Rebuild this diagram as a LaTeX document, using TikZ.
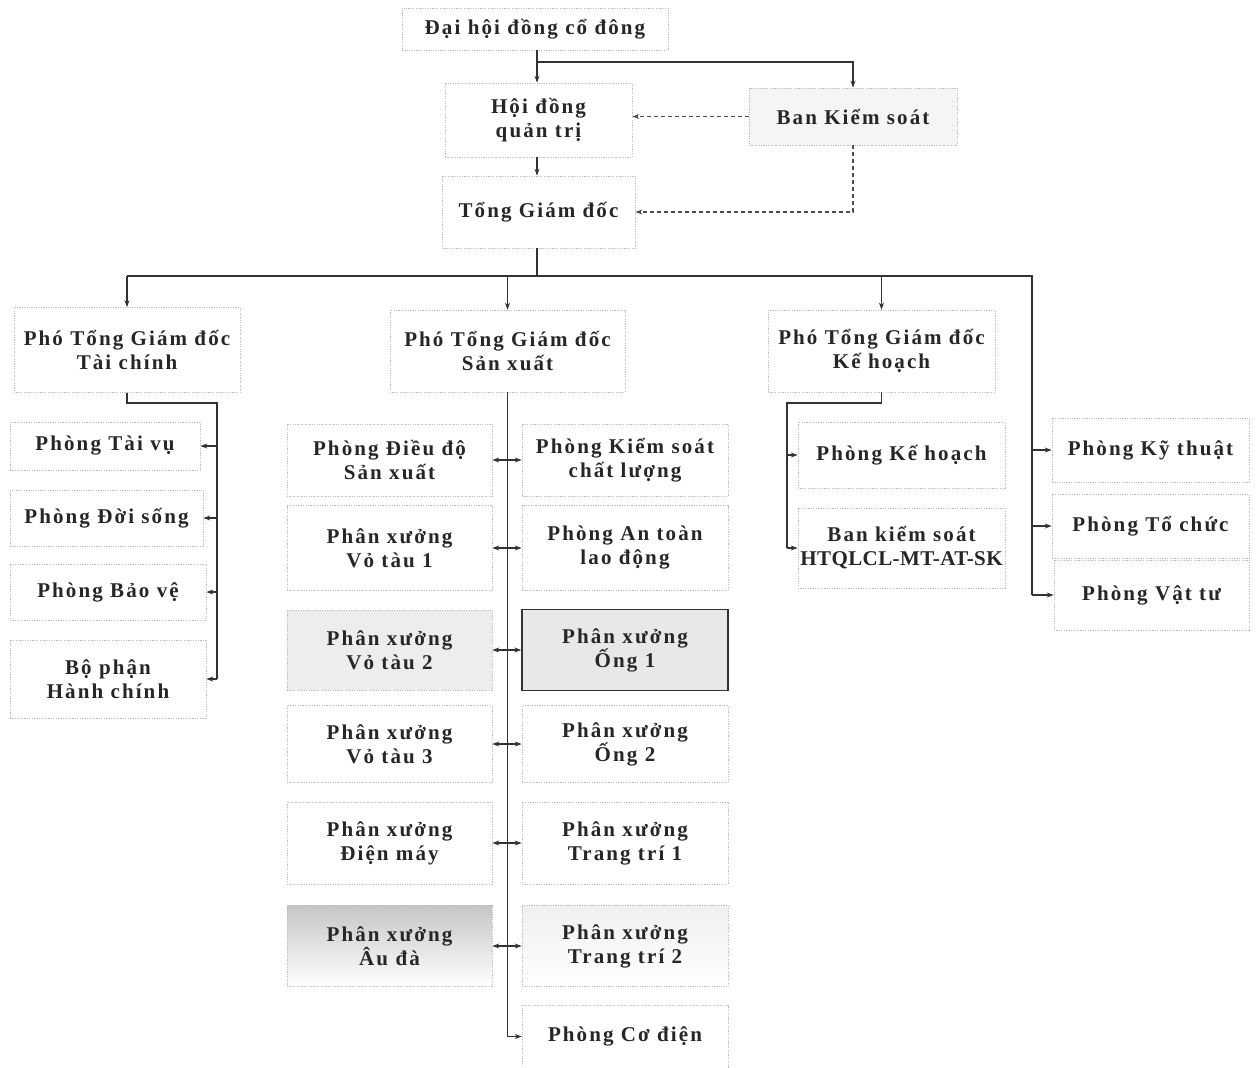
\documentclass[tikz,border=0pt]{standalone}
\usepackage{fontspec}
\newfontfamily\boxfont{Liberation Serif}[LetterSpace=10]
\newfontfamily\plainfont{Liberation Serif}[LetterSpace=2]
\usetikzlibrary{arrows.meta,shadings}
\begin{document}
\begin{tikzpicture}[x=1pt,y=-1pt,
 box/.style={draw=gray!50, line width=0.7pt, dash pattern=on 1.2pt off 1.2pt, inner sep=0pt, align=center, text=black!85, font=\boxfont\bfseries\fontsize{21}{24}\selectfont},
 conn/.style={draw=black!80, line width=1.3pt},
 arr/.style={conn, -{Stealth[length=7pt,width=5pt]}},
 darr/.style={conn, {Stealth[length=7pt,width=5pt]}-{Stealth[length=7pt,width=5pt]}},
 dasharr/.style={draw=black!70, line width=1.1pt, dash pattern=on 4pt off 3pt, -{Stealth[length=7pt,width=5pt]}},
]
\fill[white] (0,0) rectangle (1259,1068);
\useasboundingbox (0,0) rectangle (1259,1068);

% top
\node[box, minimum width=266pt, minimum height=42pt] (dh) at (535,29) {Đại hội đồng cổ đông};
\node[box, minimum width=187pt, minimum height=74pt] (hd) at (538.5,120) {Hội đồng\\quản trị};
\node[box, minimum width=193pt, minimum height=72pt] (tgd) at (538.5,212) {Tổng Giám đốc};
\node[box, minimum width=208pt, minimum height=57pt, fill=gray!8] (bks) at (853,116.5) {Ban Kiểm soát};

% deputies
\node[box, minimum width=226pt, minimum height=85pt] (ptc) at (127,350) {Phó Tổng Giám đốc\\Tài chính};
\node[box, minimum width=235pt, minimum height=82pt] (psx) at (507.5,351) {Phó Tổng Giám đốc\\Sản xuất};
\node[box, minimum width=227pt, minimum height=82pt] (pkh) at (881.5,351) {Phó Tổng Giám đốc\\Kế hoạch};

% left column
\node[box, minimum width=190pt, minimum height=48pt] (tv) at (105,446) {Phòng Tài vụ};
\node[box, minimum width=193pt, minimum height=56pt] (ds) at (106.5,518) {Phòng Đời sống};
\node[box, minimum width=196pt, minimum height=56pt] (bv) at (108,592) {Phòng Bảo vệ};
\node[box, minimum width=196pt, minimum height=78pt] (hc) at (108,679) {Bộ phận\\Hành chính};

% centre left
\node[box, minimum width=205pt, minimum height=72pt] (dd) at (389.5,460) {Phòng Điều độ\\Sản xuất};
\node[box, minimum width=205pt, minimum height=85pt] (vt1) at (389.5,548) {Phân xưởng\\Vỏ tàu 1};
\node[box, minimum width=205pt, minimum height=80pt, fill=gray!14] (vt2) at (389.5,650) {Phân xưởng\\Vỏ tàu 2};
\node[box, minimum width=205pt, minimum height=77pt] (vt3) at (389.5,744) {Phân xưởng\\Vỏ tàu 3};
\node[box, minimum width=205pt, minimum height=82pt] (dm) at (389.5,843) {Phân xưởng\\Điện máy};
\node[box, minimum width=205pt, minimum height=81pt, top color=gray!45, bottom color=white] (ad) at (389.5,946) {Phân xưởng\\Âu đà};

% centre right
\node[box, minimum width=206pt, minimum height=72pt] (ksc) at (625,460) {Phòng Kiểm soát\\chất lượng};
\node[box, minimum width=206pt, minimum height=85pt] (atld) at (625,548) {Phòng An toàn\\lao động};
\node[box, minimum width=206pt, minimum height=81pt, fill=gray!18, draw=black!80, solid, line width=1.3pt] (o1) at (625,650) {Phân xưởng\\Ống 1};
\node[box, minimum width=206pt, minimum height=77pt] (o2) at (625,744) {Phân xưởng\\Ống 2};
\node[box, minimum width=206pt, minimum height=82pt] (tt1) at (625,843) {Phân xưởng\\Trang trí 1};
\node[box, minimum width=206pt, minimum height=81pt, top color=gray!12, bottom color=white] (tt2) at (625,946) {Phân xưởng\\Trang trí 2};
\node[box, minimum width=206pt, minimum height=63pt] (cd) at (625,1036.5) {Phòng Cơ điện};

% planning column
\node[box, minimum width=207pt, minimum height=66pt] (kh) at (901.5,455) {Phòng Kế hoạch};
\node[box, minimum width=207pt, minimum height=80pt] (bkht) at (901.5,548) {Ban kiểm soát\\{\plainfont\bfseries HTQLCL-MT-AT-SK}};

% far right
\node[box, minimum width=197pt, minimum height=64pt] (kt) at (1150.5,450) {Phòng Kỹ thuật};
\node[box, minimum width=197pt, minimum height=64pt] (tc) at (1150.5,526) {Phòng Tổ chức};
\node[box, minimum width=195pt, minimum height=70pt] (vtu) at (1151.5,595) {Phòng Vật tư};

% top connectors
\coordinate (j1) at (537,62);
\coordinate (j2) at (537,170);
\draw[conn] (dh.south -| j1) -- (j1);
\draw[arr] (j1) -- (j1 |- hd.north);
\draw[arr] (j1) -| (bks.north);
\draw[arr] (hd.south -| j2) -- (tgd.north -| j2);
\draw[dasharr] (bks.west) -- (bks.west -| hd.east);
\draw[dasharr] (bks.south) |- (tgd.east);

% bus
\coordinate (bus) at (537,276);
\coordinate (rv) at (1032,276);
\draw[conn] (tgd.south -| bus) -- (bus);
\draw[conn] (ptc.north |- bus) -- (rv) -- (rv |- vtu.west);
\draw[arr] (ptc.north |- bus) -- (ptc.north);
\draw[arr] (psx.north |- bus) -- (psx.north);
\draw[arr] (pkh.north |- bus) -- (pkh.north);
\draw[arr] (rv |- kt.west) -- (kt.west);
\draw[arr] (rv |- tc.west) -- (tc.west);
\draw[arr] (rv |- vtu.west) -- (vtu.west);

% left column connectors
\coordinate (lv) at (217,403);
\draw[conn] (ptc.south) |- (lv) -- (lv |- hc.east);
\draw[arr] (lv |- tv.east) -- (tv.east);
\draw[arr] (lv |- ds.east) -- (ds.east);
\draw[arr] (lv |- bv.east) -- (bv.east);
\draw[arr] (lv |- hc.east) -- (hc.east);

% centre connectors
\draw[conn] (psx.south) -- (psx.south |- cd.west);
\draw[arr] (psx.south |- cd.west) -- (cd.west);
\draw[darr] (dd.east) -- (ksc.west);
\draw[darr] (vt1.east) -- (atld.west);
\draw[darr] (vt2.east) -- (o1.west);
\draw[darr] (vt3.east) -- (o2.west);
\draw[darr] (dm.east) -- (tt1.west);
\draw[darr] (ad.east) -- (tt2.west);

% planning connectors
\coordinate (kv) at (787,403);
\draw[conn] (pkh.south) |- (kv) -- (kv |- bkht.west);
\draw[arr] (kv |- kh.west) -- (kh.west);
\draw[arr] (kv |- bkht.west) -- (bkht.west);
\end{tikzpicture}
\end{document}
